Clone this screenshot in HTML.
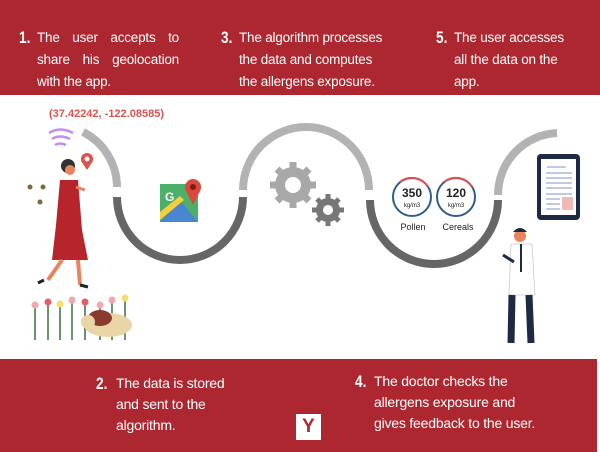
<!DOCTYPE html>
<html><head><meta charset="utf-8"><style>
html,body{margin:0;padding:0;background:#fff;}
body{width:600px;height:452px;position:relative;overflow:hidden;font-family:"Liberation Sans",sans-serif;}
.band{position:absolute;left:0;background:#ad2730;}
.t{position:absolute;color:#fff;font-size:13.5px;line-height:22px;letter-spacing:-0.2px;}
.n{position:absolute;color:#fff;font-size:17px;font-weight:bold;transform:scaleX(0.8);transform-origin:left;}
</style></head><body>
<div class="band" style="top:0;width:600px;height:95px;"></div>
<div class="band" style="top:359px;width:597px;height:93px;"></div>

<div class="n" style="left:19px;top:28px;">1.</div>
<div class="t" style="left:37px;top:27px;width:142px;text-align:justify;">The user accepts to share his geolocation with the app.</div>
<div class="n" style="left:221px;top:28px;">3.</div>
<div class="t" style="left:239px;top:27px;">The algorithm processes<br>the data and computes<br>the allergens exposure.</div>
<div class="n" style="left:436px;top:28px;">5.</div>
<div class="t" style="left:454px;top:27px;">The user accesses<br>all the data on the<br>app.</div>

<div class="n" style="left:96px;top:374px;">2.</div>
<div class="t" style="left:116px;top:373px;line-height:21px;font-size:14px;">The data is stored<br>and sent to the<br>algorithm.</div>
<div class="n" style="left:355px;top:372px;">4.</div>
<div class="t" style="left:374px;top:371px;line-height:21px;font-size:14px;">The doctor checks the<br>allergens exposure and<br>gives feedback to the user.</div>
<div style="position:absolute;left:296px;top:414px;width:25px;height:26px;background:#fff;color:#ad2730;font-weight:bold;font-size:19px;text-align:center;line-height:26px;">Y</div>

<svg width="600" height="452" style="position:absolute;left:0;top:0" xmlns="http://www.w3.org/2000/svg">
<g fill="none" stroke-width="8">
<path d="M83 132 A62 62 0 0 1 117 187" stroke="#b3b3b3"/>
<path d="M117 197 A63 63 0 0 0 243 197" stroke="#666"/>
<path d="M243 190 A63 63 0 0 1 369 190" stroke="#b3b3b3"/>
<path d="M370 200 A64 64 0 0 0 498 200" stroke="#666"/>
<path d="M498 195 A62 62 0 0 1 557 133" stroke="#b3b3b3"/>
</g>
<text x="49" y="117" fill="#d9534f" font-size="11" font-weight="bold" font-family="Liberation Sans">(37.42242, -122.08585)</text>
<g fill="none" stroke="#c58cf0" stroke-width="2.5">
<path d="M49 133 Q60 126 73 133"/><path d="M52 139 Q60 134 70 139"/><path d="M55 145 Q60 142 66 145"/>
</g>
<circle cx="68" cy="166" r="7" fill="#333"/>
<circle cx="70" cy="170" r="5" fill="#e8855f"/>
<path d="M60 180 L78 180 L82 230 L88 260 L52 260 L56 225 Z" fill="#b5252b"/>
<path d="M62 260 L48 280 M78 260 L80 285" stroke="#e8855f" stroke-width="4"/>
<path d="M44 280 L38 283 M80 285 L88 287" stroke="#222" stroke-width="3"/>
<path d="M76 187 L85 190" stroke="#e8855f" stroke-width="3"/>
<circle cx="87" cy="159" r="6" fill="#d9534f"/><path d="M81 161 L87 170 L93 161Z" fill="#d9534f"/><circle cx="87" cy="159" r="2.5" fill="#fff"/>
<g fill="#7a6a3a"><circle cx="30" cy="187" r="2.5"/><circle cx="43" cy="187" r="2.5"/><circle cx="40" cy="202" r="2.5"/></g>
<g stroke="#3a6e3a" stroke-width="1.5">
<path d="M35 340 V305 M48 340 V302 M60 340 V305 M72 340 V300 M85 340 V302 M100 340 V305 M112 340 V300 M125 340 V298"/></g>
<g><circle cx="35" cy="305" r="3.5" fill="#f1a9b0"/><circle cx="48" cy="302" r="3.5" fill="#e35d6a"/><circle cx="60" cy="304" r="3.5" fill="#f1e06a"/><circle cx="72" cy="300" r="3.5" fill="#f1a9b0"/><circle cx="85" cy="302" r="3.5" fill="#e35d6a"/><circle cx="100" cy="305" r="3.5" fill="#f1a9b0"/><circle cx="112" cy="300" r="3.5" fill="#f1a9b0"/><circle cx="125" cy="298" r="3.5" fill="#f1e06a"/></g>
<ellipse cx="108" cy="325" rx="24" ry="12" fill="#e8d6a6"/>
<ellipse cx="100" cy="318" rx="12" ry="8" fill="#8a3b2e"/>
<circle cx="88" cy="322" r="7" fill="#e8d6a6"/>
<rect x="160" y="184" width="38" height="38" fill="#4caf6a"/>
<path d="M160 222 L180 200 L198 222 Z" fill="#4a86d0"/>
<path d="M160 212 L180 196 L184 200 L160 220 Z" fill="#f4d03f"/>
<text x="165" y="201" fill="#fff" font-size="12" font-weight="bold" font-family="Liberation Sans">G</text>
<circle cx="193" cy="187" r="8" fill="#d9483b"/><path d="M185 189 L193 205 L201 189Z" fill="#d9483b"/><circle cx="193" cy="187" r="3" fill="#7a1c16"/>
<g fill="#a8a8a8"><circle cx="293" cy="185" r="18"/>
<g stroke="#a8a8a8" stroke-width="7"><path d="M293 162 V208 M270 185 H316 M277 169 L309 201 M309 169 L277 201"/></g></g>
<circle cx="293" cy="185" r="8" fill="#fff"/>
<g fill="#777"><circle cx="328" cy="210" r="12"/>
<g stroke="#777" stroke-width="5"><path d="M328 194 V226 M312 210 H344 M317 199 L339 221 M339 199 L317 221"/></g></g>
<circle cx="328" cy="210" r="5" fill="#fff"/>
<circle cx="412" cy="197" r="19" fill="#fff" stroke="#2f5d8a" stroke-width="2"/>
<path d="M400 182 A19 19 0 0 1 428 187" fill="none" stroke="#d9534f" stroke-width="2"/>
<circle cx="456" cy="197" r="19" fill="#fff" stroke="#2f5d8a" stroke-width="2"/>
<path d="M444 182 A19 19 0 0 1 472 187" fill="none" stroke="#d9534f" stroke-width="2"/>
<g font-family="Liberation Sans" fill="#222" text-anchor="middle">
<text x="412" y="197" font-size="12" font-weight="bold">350</text>
<text x="412" y="207" font-size="6">kg/m3</text>
<text x="456" y="197" font-size="12" font-weight="bold">120</text>
<text x="456" y="207" font-size="6">kg/m3</text>
<text x="413" y="230" font-size="9">Pollen</text>
<text x="458" y="230" font-size="9">Cereals</text>
</g>
<rect x="537" y="154" width="43" height="66" rx="4" fill="#1e2a44"/>
<rect x="541" y="159" width="35" height="56" fill="#fff"/>
<g stroke="#a8b8d8" stroke-width="1.5"><path d="M547 167H566 M546 173H572 M546 178H572 M546 183H572 M546 188H572 M546 194H572 M546 199H560 M546 204H560 M546 209H560"/></g>
<rect x="562" y="197" width="11" height="13" fill="#f2b7b7"/>
<circle cx="520" cy="236" r="6" fill="#e8855f"/><path d="M513 232 Q520 224 527 232 Z" fill="#1e2a44"/>
<path d="M511 244 H532 L535 295 H509 Z" fill="#fff" stroke="#ccc" stroke-width="0.8"/>
<path d="M521 244 V272" stroke="#1e2a44" stroke-width="2"/>
<path d="M512 295 L511 343 M529 295 L531 343" stroke="#1e2a44" stroke-width="7"/>
<path d="M503 255 L514 262" stroke="#1e2a44" stroke-width="3"/>
</svg>
</body></html>
